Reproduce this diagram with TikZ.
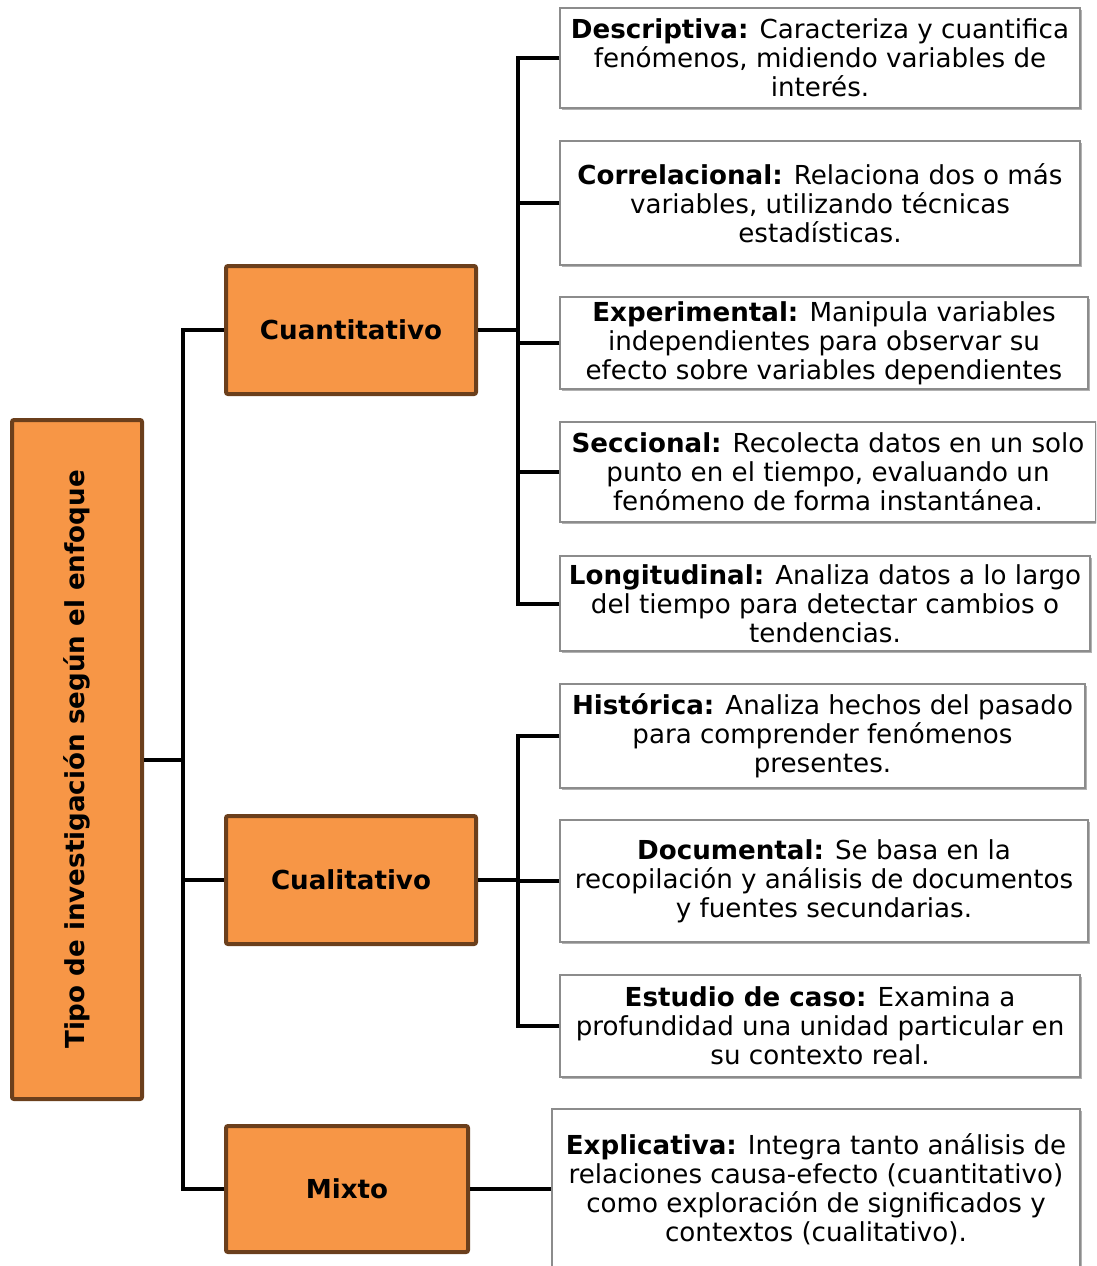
\documentclass[tikz,border=0pt]{standalone}
\usepackage{fontspec}
\setmainfont{DejaVu Sans}
\usetikzlibrary{shadows}
\definecolor{orangefill}{HTML}{F79646}
\definecolor{brownedge}{HTML}{6B3F1C}
\definecolor{boxedge}{HTML}{8C8C8C}
\tikzset{
  sz/.style 2 args={minimum width=#1*0.75pt, minimum height=#2*0.75pt},
  mainbox/.style={draw=brownedge, line width=3pt, fill=orangefill, rounded corners=1.5pt,
    inner sep=0pt, align=center, font=\fontsize{19.6}{21.75}\selectfont\bfseries},
  descbox/.style={draw=boxedge, line width=0.8pt, fill=white, inner sep=0pt, align=center,
    font=\fontsize{19.6}{21.75}\selectfont,
    drop shadow={shadow xshift=1.6pt, shadow yshift=-1.6pt, opacity=0.3, fill=black}},
  conn/.style={draw=black, line width=3pt}
}
\begin{document}
\begin{tikzpicture}[x=0.75pt, y=-0.75pt]
\useasboundingbox (0,0) rectangle (1096,1266);
\clip (0,0) rectangle (1096,1266);

% main boxes
\node[mainbox, sz={130}{679}] (root) at (77,759.5) {\rotatebox{90}{Tipo de investigación según el enfoque}};
\node[mainbox, sz={250}{128}] (cuanti) at (351,330) {Cuantitativo};
\node[mainbox, sz={250}{128}] (cuali) at (351,880) {Cualitativo};
\node[mainbox, sz={242}{126}] (mixto) at (347,1189) {Mixto};

% description boxes
\node[descbox, sz={520}{100}] (d1) at (820,58) {\textbf{Descriptiva:} Caracteriza y cuantifica\\fenómenos, midiendo variables de\\interés.};
\node[descbox, sz={520}{124}] (d2) at (820,203) {\textbf{Correlacional:} Relaciona dos o más\\variables, utilizando técnicas\\estadísticas.};
\node[descbox, sz={528}{92}] (d3) at (824,343) {\textbf{Experimental:} Manipula variables\\independientes para observar su\\efecto sobre variables dependientes};
\node[descbox, sz={536}{100}] (d4) at (828,472) {\textbf{Seccional:} Recolecta datos en un solo\\punto en el tiempo, evaluando un\\fenómeno de forma instantánea.};
\node[descbox, sz={530}{95}] (d5) at (825,603.5) {\textbf{Longitudinal:} Analiza datos a lo largo\\del tiempo para detectar cambios o\\tendencias.};
\node[descbox, sz={525}{104}] (h1) at (822.5,736) {\textbf{Histórica:} Analiza hechos del pasado\\para comprender fenómenos\\presentes.};
\node[descbox, sz={528}{122}] (h2) at (824,881) {\textbf{Documental:} Se basa en la\\recopilación y análisis de documentos\\y fuentes secundarias.};
\node[descbox, sz={520}{102}] (h3) at (820,1026) {\textbf{Estudio de caso:} Examina a\\profundidad una unidad particular en\\su contexto real.};
\node[descbox, sz={528}{160}] (ex) at (816,1189) {\textbf{Explicativa:} Integra tanto análisis de\\relaciones causa-efecto (cuantitativo)\\como exploración de significados y\\contextos (cualitativo).};

% junctions
\coordinate (j0) at (183,759.5);
\coordinate (j1) at (518,330);
\coordinate (j2) at (518,880);

% connectors
\draw[conn] (root.east) -- (j0);
\draw[conn] (cuanti.west) -| (j0);
\draw[conn] (cuali.west) -| (j0);
\draw[conn] (mixto.west) -| (j0);

\draw[conn] (cuanti.east) -- (j1);
\foreach \n in {d1,d2,d3,d4,d5} \draw[conn] (\n.west) -| (j1);

\draw[conn] (cuali.east) -- (j2);
\foreach \n in {h1,h2,h3} \draw[conn] (\n.west) -| (j2);

\draw[conn] (mixto.east) -- (ex.west);
\end{tikzpicture}
\end{document}
